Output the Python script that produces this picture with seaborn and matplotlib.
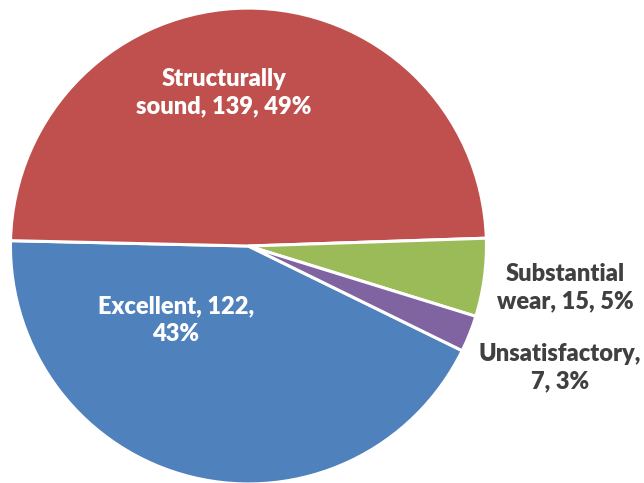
import matplotlib
matplotlib.use("Agg")
import matplotlib.pyplot as plt
import seaborn as sns

categories = ["Excellent", "Structurally sound", "Substantial wear", "Unsatisfactory"]
counts = [122, 139, 15, 7]
percents = [43, 49, 5, 3]
label_texts = ["Excellent, 122,\n43%", "Structurally\nsound, 139, 49%",
               "Substantial\nwear, 15, 5%", "Unsatisfactory,\n7, 3%"]

colors = ["#4F81BD", "#C0504D", "#9BBB59", "#8064A2"]
text_colors = ["white", "white", "#404040", "#404040"]
label_pos = [(-0.305, -0.311), (-0.103, 0.643), (1.330, -0.176), (1.309, -0.513)]

sns.set_theme(style="white")
plt.rcParams["font.family"] = ["Lato", "DejaVu Sans"]

fig = plt.figure(figsize=(6.44, 4.83), dpi=100)
ax = fig.add_axes([0, 0, 1, 1])
ax.pie(counts, colors=colors, startangle=-26.1, counterclock=False, radius=1.0,
       wedgeprops=dict(edgecolor="white", linewidth=2.2))
for txt, col, (x, y) in zip(label_texts, text_colors, label_pos):
    ax.text(x, y, txt, ha="center", va="center", color=col, fontsize=17,
            fontweight="heavy", linespacing=1.3)
ax.set_aspect("auto")
ax.set_xlim(-1.044, 1.662)
ax.set_ylim(-0.996, 1.034)
ax.axis("off")
fig.savefig("out.png", dpi=100)
